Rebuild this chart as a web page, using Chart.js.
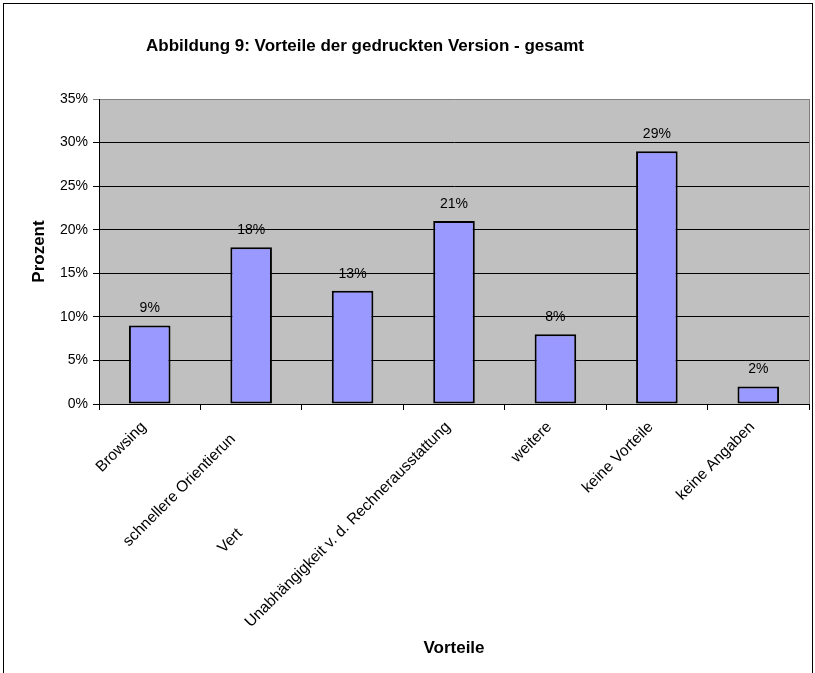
<!DOCTYPE html>
<html>
<head>
<meta charset="utf-8">
<script src="https://cdn.jsdelivr.net/npm/chart.js@4/dist/chart.umd.min.js"></script>
<style>
    body { margin: 0; background: #fff; }
    #frame { position: absolute; left: 3px; top: 3px; width: 808px; height: 700px; border: 1px solid #000; }
    #chart { position: absolute; left: 0; top: 0; }
</style>
</head>
<body>
<div id="frame"></div>
<canvas id="chart" width="815" height="673"></canvas>
<script>
"use strict";

const title = "Abbildung 9: Vorteile der gedruckten Version - gesamt"
const categories = ["Browsing", "schnellere Orientierun", "Vert", "Unabhängigkeit v. d. Rechnerausstattung", "weitere", "keine Vorteile", "keine Angaben"]
const values = [9, 18, 13, 21, 8, 29, 2]
const y_ticks = [0, 5, 10, 15, 20, 25, 30, 35]

// the reference cuts two labels short, keep their start where it was
const label_pad = {"schnellere Orientierun": 4, "Vert": 35}

const font = "Liberation Sans, Arial, sans-serif"

const plot_bg = {
    id: "plot_bg",
    beforeDraw(chart) {
        const a = chart.chartArea
        const ctx = chart.ctx
        ctx.save()
        ctx.fillStyle = "#c0c0c0"
        ctx.fillRect(a.left, a.top, a.right - a.left, a.bottom - a.top)
        ctx.restore()
    },
    afterDraw(chart) {
        const a = chart.chartArea
        const ctx = chart.ctx
        ctx.save()
        ctx.strokeStyle = "#808080"
        ctx.lineWidth = 1
        ctx.beginPath()
        ctx.moveTo(a.right + 0.5, a.top)
        ctx.lineTo(a.right + 0.5, a.bottom)
        ctx.stroke()
        ctx.restore()
    }
}

const head = {
    id: "head",
    afterDraw(chart) {
        const ctx = chart.ctx
        ctx.save()
        ctx.font = "bold 17px " + font
        ctx.fillStyle = "#000"
        ctx.textAlign = "center"
        ctx.textBaseline = "middle"
        ctx.fillText(title, 365, 46)
        ctx.restore()
    }
}

const value_labels = {
    id: "value_labels",
    afterDatasetsDraw(chart) {
        const ctx = chart.ctx
        ctx.save()
        ctx.font = "14px " + font
        ctx.fillStyle = "#000"
        ctx.textAlign = "center"
        ctx.textBaseline = "middle"
        chart.getDatasetMeta(0).data.forEach((bar, i) => {
            ctx.fillText(values[i] + "%", bar.x, bar.y - 17)
        })
        ctx.restore()
    }
}

const config = {
    type: "bar",
    data: {
        labels: categories,
        datasets: [
            {
                data: values,
                backgroundColor: "#9999ff",
                borderColor: "#000",
                borderWidth: 2,
                borderSkipped: false,
                barPercentage: 0.41,
                categoryPercentage: 1.0
            }
        ]
    },
    options: {
        responsive: false,
        animation: false,
        devicePixelRatio: 1,
        layout: {
            padding: {left: 0, right: 6, top: 99, bottom: 0}
        },
        plugins: {
            legend: {display: false},
            tooltip: {enabled: false}
        },
        scales: {
            x: {
                type: "category",
                offset: true,
                afterFit: scale => { scale.height = 269 },
                grid: {
                    offset: true,
                    drawOnChartArea: false,
                    drawTicks: true,
                    tickLength: 6,
                    color: "#000"
                },
                border: {color: "#000", width: 1},
                ticks: {
                    autoSkip: false,
                    minRotation: 45,
                    maxRotation: 45,
                    padding: 8,
                    labelOffset: -6,
                    color: "#000",
                    font: {family: font, size: 15.5},
                    callback: function(value) {
                        const label = this.getLabelForValue(value)
                        return label + "\u00a0".repeat(label_pad[label] || 0)
                    }
                },
                title: {
                    display: true,
                    text: "Vorteile",
                    color: "#000",
                    font: {family: font, size: 17, weight: "bold"},
                    padding: {top: 0, bottom: 14}
                }
            },
            y: {
                min: 0,
                max: 35,
                afterFit: scale => { scale.width = 99 },
                afterBuildTicks: scale => { scale.ticks = y_ticks.map(v => ({value: v})) },
                grid: {
                    color: ctx => ctx.tick && ctx.tick.value === 35 ? "#808080" : "#000",
                    tickLength: 6,
                    lineWidth: 1
                },
                border: {color: "#000", width: 1},
                ticks: {
                    padding: 5,
                    color: "#000",
                    font: {family: font, size: 14},
                    callback: v => v + "%"
                },
                title: {
                    display: true,
                    text: "Prozent",
                    color: "#000",
                    font: {family: font, size: 17, weight: "bold"},
                    padding: {top: 29, bottom: 0}
                }
            }
        }
    },
    plugins: [plot_bg, head, value_labels]
}

new Chart(document.getElementById("chart"), config)
</script>
</body>
</html>
